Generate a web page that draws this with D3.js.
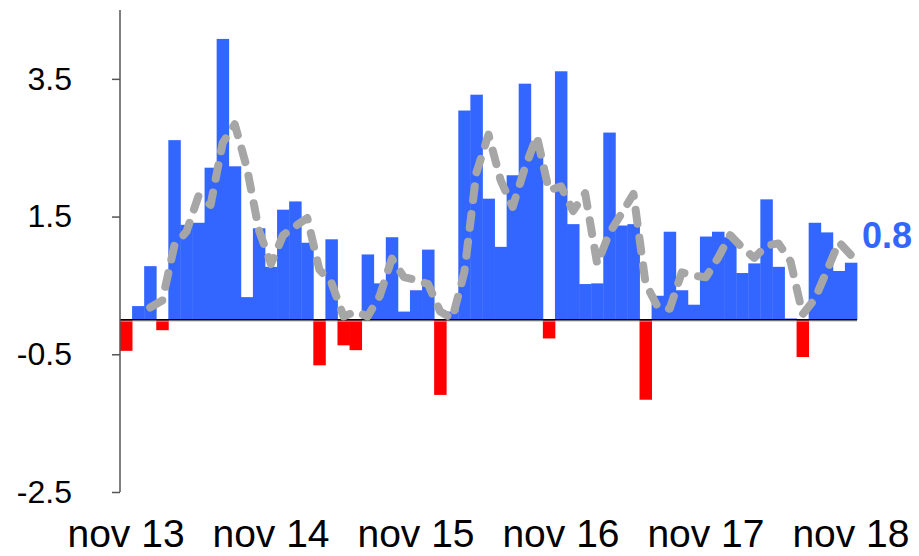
<!DOCTYPE html>
<html>
<head>
<meta charset="utf-8">
<script src="https://cdn.jsdelivr.net/npm/d3@7"></script>
<style>
  html, body { margin: 0; padding: 0; background: #fff; }
  svg { display: block; }
</style>
</head>
<body>
<svg id="chart" width="919" height="556"></svg>
<script>
// Monthly values, Nov 2013 .. Nov 2018
const months = d3.range(61);
const values = [
  -0.45, 0.20, 0.78, -0.15, 2.61, 1.38, 1.41, 2.21, 4.08, 2.23, 0.33, 1.33,
  0.77, 1.60, 1.72, 1.12, -0.66, 1.17, -0.37, -0.44, 0.95, 0.53, 1.20, 0.12,
  0.43, 1.02, -1.09, 0.12, 3.04, 3.27, 1.76, 1.06, 2.10, 3.43, 2.48, -0.27,
  3.61, 1.39, 0.52, 0.53, 2.72, 1.37, 1.39, -1.16, 0.35, 1.28, 0.43, 0.22,
  1.21, 1.28, 1.20, 0.68, 0.82, 1.75, 0.77, 0.02, -0.54, 1.41, 1.27, 0.71,
  0.83
];
// 3-month trailing average line, starts at month index 2
const trendStart = 2;
const trend = [
  0.18, 0.28, 1.08, 1.28, 1.80, 1.67, 2.57, 2.84, 2.21, 1.30,
  0.81, 1.23, 1.36, 1.48, 0.73, 0.54, 0.05, 0.12, 0.05, 0.35,
  0.89, 0.62, 0.58, 0.52, 0.12, 0.02, 0.69, 2.14, 2.69, 2.03,
  1.64, 2.20, 2.67, 1.88, 1.94, 1.58, 1.84, 0.81, 1.26, 1.54,
  1.83, 0.53, 0.19, 0.16, 0.69, 0.64, 0.62, 0.90, 1.23, 1.05,
  0.90, 1.08, 1.11, 0.85, 0.08, 0.30, 0.71, 1.13, 0.94
];
const xTickIdx = [0, 12, 24, 36, 48, 60];
const xTickLabels = ["nov 13", "nov 14", "nov 15", "nov 16", "nov 17", "nov 18"];
const yTicks = [3.5, 1.5, -0.5, -2.5];
const yDomain = [-2.5, 4.5];

const svg = d3.select("#chart");
const mLeft = 120, mRight = 857, mTop = 10, mBottom = 492;

const x = d3.scaleBand().domain(months).range([mLeft, mRight]).paddingInner(0).paddingOuter(0);
const y = d3.scaleLinear().domain(yDomain).range([mBottom, mTop]);

const BLUE = "#3366ff", RED = "#ff0000", GREY = "#a6a6a6";

// bars
svg.append("g").selectAll("rect").data(months).join("rect")
  .attr("x", i => x(i))
  .attr("width", x.bandwidth() + 0.4)
  .attr("y", i => values[i] >= 0 ? y(values[i]) : y(0))
  .attr("height", i => Math.abs(y(values[i]) - y(0)))
  .attr("fill", i => values[i] >= 0 ? BLUE : RED);

// zero line
svg.append("line")
  .attr("x1", mLeft).attr("x2", mRight)
  .attr("y1", y(0) + 1.2).attr("y2", y(0) + 1.2)
  .attr("stroke", "#bbbbbb").attr("stroke-width", 1);
svg.append("line")
  .attr("x1", mLeft).attr("x2", mRight)
  .attr("y1", y(0)).attr("y2", y(0))
  .attr("stroke", "#000").attr("stroke-width", 1.5);

// y axis
const yAxis = d3.axisLeft(y).tickValues(yTicks).tickSize(8).tickSizeOuter(0)
  .tickFormat(d3.format(".1f"));
const gy = svg.append("g").attr("transform", `translate(${mLeft},0)`).call(yAxis);
gy.select(".domain").attr("stroke", "#555").attr("stroke-width", 1.5)
  .attr("d", `M0,${mTop}V${mBottom}`);
gy.selectAll(".tick line").attr("stroke", "#555").attr("stroke-width", 1.5);
gy.selectAll(".tick text")
  .attr("x", -48)
  .attr("font-family", "Liberation Sans, Arial, sans-serif")
  .attr("font-size", 32)
  .attr("fill", "#000")
  .text(d => d3.format(".1f")(d).replace("\u2212", "-"));

// x labels
const gx = svg.append("g");
gx.selectAll("text").data(xTickIdx).join("text")
  .attr("x", (d) => x(d) + x.bandwidth() / 2)
  .attr("y", 547)
  .attr("text-anchor", "middle")
  .attr("font-family", "Liberation Sans, Arial, sans-serif")
  .attr("font-size", 39)
  .attr("fill", "#000")
  .text((d, i) => xTickLabels[i]);

// trend line
const line = d3.line()
  .x((d, i) => x(i + trendStart) + x.bandwidth() / 2)
  .y(d => y(d));
svg.append("path")
  .datum(trend)
  .attr("d", line)
  .attr("fill", "none")
  .attr("stroke", GREY)
  .attr("stroke-width", 8)
  .attr("stroke-linecap", "round")
  .attr("stroke-linejoin", "round")
  .attr("stroke-dasharray", "14,14");

// last value label
svg.append("text")
  .attr("x", 862)
  .attr("y", 248)
  .attr("font-family", "Liberation Sans, Arial, sans-serif")
  .attr("font-weight", "bold")
  .attr("font-size", 36)
  .attr("fill", BLUE)
  .text(d3.format(".1f")(values[values.length - 1]));
</script>
</body>
</html>
